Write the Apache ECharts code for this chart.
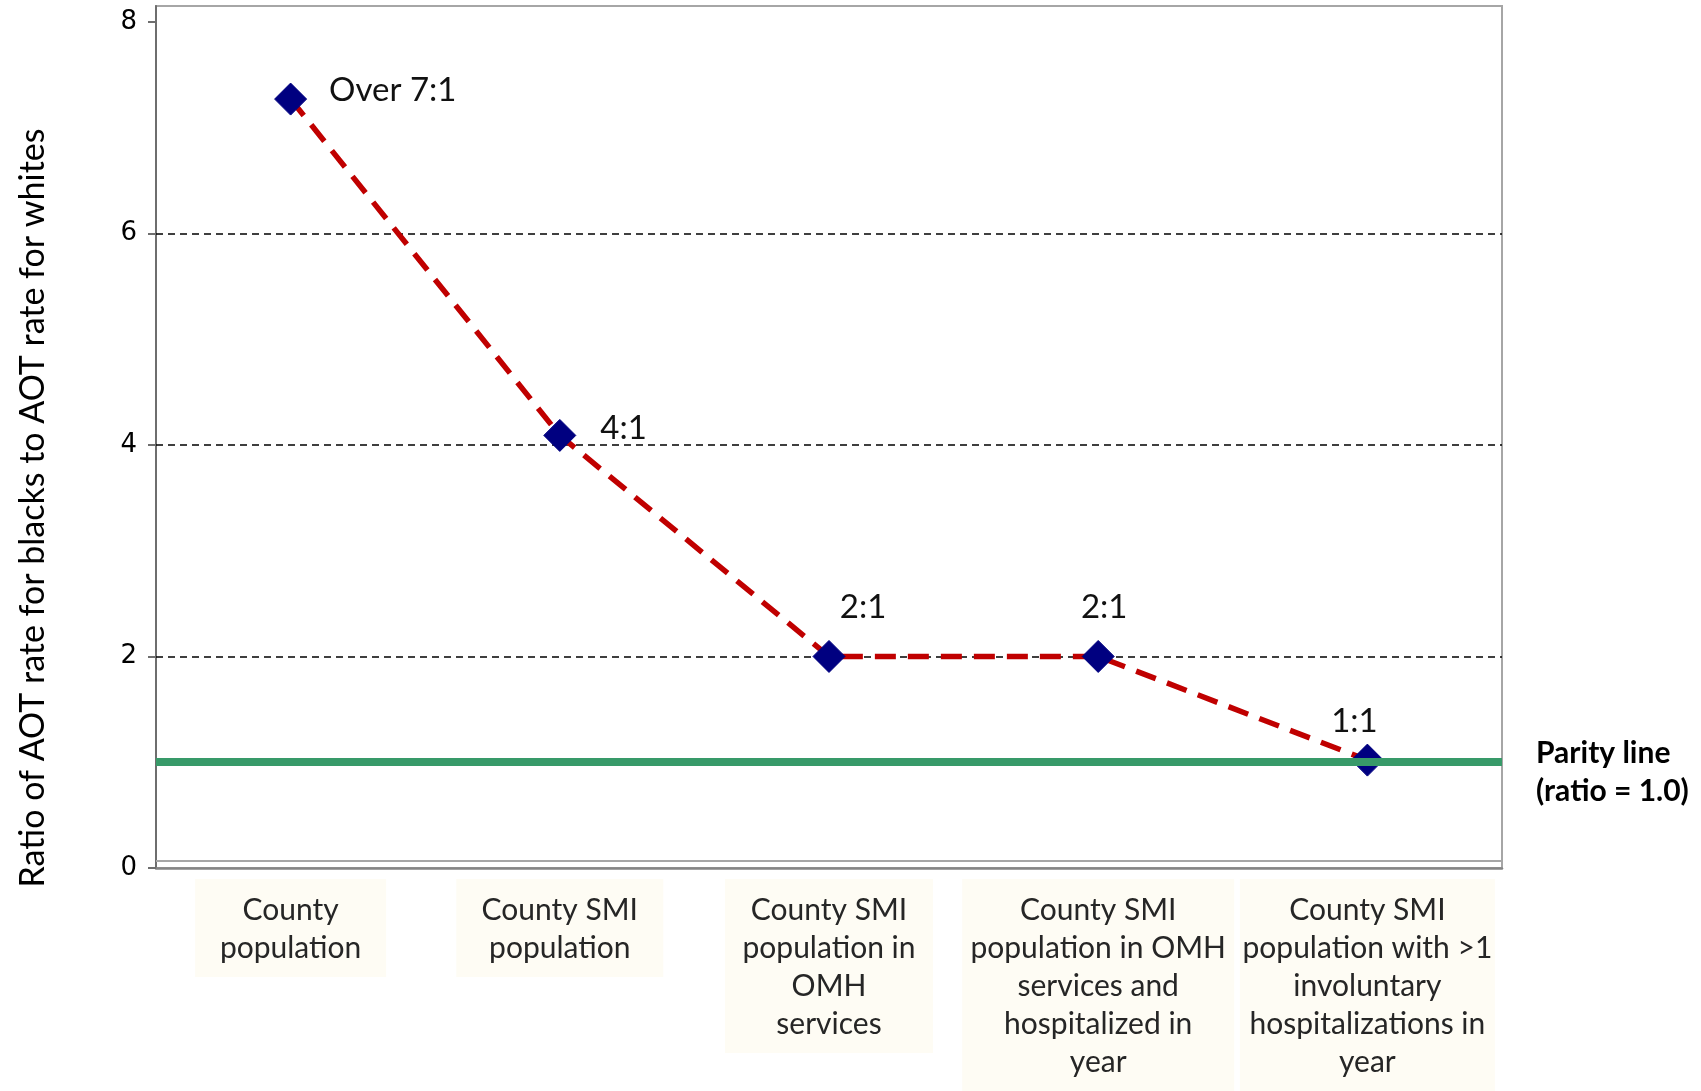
<!DOCTYPE html>
<html>
<head>
<meta charset="utf-8">
<script src="https://cdn.jsdelivr.net/npm/echarts@6/dist/echarts.min.js"></script>
<style>
  html, body { margin: 0; padding: 0; background: #ffffff; }
  #chart { width: 1701px; height: 1091px; }
</style>
</head>
<body>
<div id="chart"></div>
<script>
// Population groups along the x axis (line breaks as shown in the label boxes)
const categories = [
  'County\npopulation',
  'County SMI\npopulation',
  'County SMI\npopulation in\nOMH\nservices',
  'County SMI\npopulation in OMH\nservices and\nhospitalized in\nyear',
  'County SMI\npopulation with >1\ninvoluntary\nhospitalizations in\nyear'
];
// Black-to-white AOT rate ratio for each group
const ratioValues = [7.27, 4.09, 2.0, 2.0, 1.02];
const ratioLabels = ['Over 7:1', '4:1', '2:1', '2:1', '1:1'];
const yTicks = [0, 2, 4, 6, 8];
const gridValues = [2, 4, 6];
const parityValue = 1.0;
const parityLines = ['Parity line', '(ratio = 1.0)'];
const yAxisTitle = 'Ratio of AOT rate for blacks to AOT rate for whites';

// Styling: width of each category label box and placement of each ratio label
const boxWidths = [191, 207, 208, 272, 255];
const labelPlacement = [
  { position: 'right', distance: 22, offset: [0, -9] },
  { position: 'right', distance: 24, offset: [0, -7] },
  { position: 'top', distance: 16, offset: [34, 0] },
  { position: 'top', distance: 16, offset: [6, 0] },
  { position: 'top', distance: 6, offset: [-13, 0] }
];

const chart = echarts.init(document.getElementById('chart'), null, { renderer: 'canvas' });

const option = {
  animation: false,
  backgroundColor: '#ffffff',
  grid: {
    left: 156, right: 199, top: 6, bottom: 223,
    show: true, borderColor: '#a6a6a6', borderWidth: 2, backgroundColor: 'transparent'
  },
  xAxis: {
    type: 'category',
    boundaryGap: true,
    data: categories.map((c, i) => ({ value: c, textStyle: { width: boxWidths[i] } })),
    axisLine: { show: true, lineStyle: { color: '#858585', width: 2.5 } },
    axisTick: { show: false },
    splitLine: { show: false },
    axisLabel: {
      interval: 0,
      margin: 11,
      fontFamily: 'Lato',
      fontSize: 30,
      lineHeight: 38,
      color: '#262626',
      align: 'center',
      backgroundColor: '#fefcf4',
      padding: [12, 0, 10, 0]
    }
  },
  yAxis: {
    type: 'value',
    min: 0,
    max: 8.15,
    interval: 2,
    name: yAxisTitle,
    nameLocation: 'middle',
    nameRotate: 90,
    nameGap: 106,
    nameTextStyle: { fontFamily: 'Lato', fontSize: 34, color: '#000000', padding: [0, 142, 0, 0] },
    axisLine: { show: true, lineStyle: { color: '#6e6e6e', width: 2 } },
    axisTick: { show: true, length: 8, customValues: yTicks, lineStyle: { color: '#6e6e6e', width: 2 } },
    axisLabel: {
      customValues: yTicks,
      formatter: v => (yTicks.indexOf(v) >= 0 ? String(v) : ''),
      fontFamily: 'DejaVu Sans',
      fontSize: 26,
      color: '#000000',
      margin: 19
    },
    splitLine: { show: false }
  },
  series: [
    {
      // dashed reference lines at the even ratios, plus the inner bottom edge of the plot frame
      type: 'line',
      data: [],
      silent: true,
      markLine: {
        silent: true,
        z: 1,
        symbol: ['none', 'none'],
        label: { show: false },
        lineStyle: { color: '#000000', width: 1.5, type: [7, 5] },
        data: gridValues.map(v => ({ yAxis: v })).concat([
          { yAxis: 0.07, lineStyle: { type: 'solid', color: '#a6a6a6', width: 2 } }
        ])
      }
    },
    {
      type: 'line',
      z: 3,
      data: ratioValues.map((v, i) => ({
        value: v,
        label: Object.assign({ show: true, formatter: ratioLabels[i] }, labelPlacement[i])
      })),
      symbol: 'diamond',
      symbolSize: 32,
      itemStyle: { color: '#000080', borderColor: '#000080', borderWidth: 1, borderJoin: 'round' },
      lineStyle: { color: '#c00000', width: 5.5, type: [21, 12] },
      label: { fontFamily: 'Lato', fontSize: 33, color: '#111111' }
    },
    {
      // parity line at ratio 1.0
      type: 'line',
      data: [],
      silent: true,
      markLine: {
        silent: true,
        z: 6,
        symbol: ['none', 'none'],
        lineStyle: { color: '#389a69', width: 8, type: 'solid' },
        label: {
          show: true,
          position: 'end',
          // a short empty spacer line pushes the two text lines slightly below the line end
          formatter: '{s| }\n{b|' + parityLines[0] + '}\n{b|' + parityLines[1] + '}',
          distance: 34,
          align: 'left',
          rich: {
            s: { fontSize: 10, lineHeight: 20 },
            b: {
              fontFamily: 'Lato',
              fontWeight: 'bold',
              fontSize: 30,
              lineHeight: 38,
              color: '#000000'
            }
          }
        },
        data: [{ yAxis: parityValue }]
      }
    }
  ]
};

chart.setOption(option);
</script>
</body>
</html>
